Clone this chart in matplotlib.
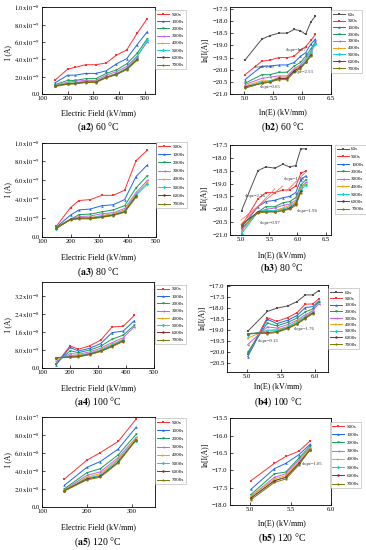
import matplotlib
matplotlib.use("Agg")
import matplotlib.pyplot as plt

plt.rcParams['font.family'] = ['Liberation Serif', 'DejaVu Serif']
plt.rcParams['mathtext.fontset'] = 'stix'

# ---- data ----
labels_a = ['500s', '1000s', '2000s', '3000s', '4000s', '5000s', '6000s', '7000s']
labels_b = ['60s'] + labels_a

# 60 C
field_60 = [150, 200, 230, 270, 310, 350, 390, 430, 470, 510]
cur_60 = [  # x1e-9 A
    [1.6, 2.9, 3.1, 3.4, 3.4, 3.6, 4.5, 5.1, 7.0, 8.7],
    [1.3, 2.2, 2.2, 2.4, 2.4, 2.7, 3.5, 4.1, 5.7, 7.2],
    [1.1, 1.6, 1.6, 1.8, 1.8, 2.4, 2.8, 3.5, 4.7, 6.4],
    [1.0, 1.4, 1.5, 1.6, 1.6, 2.2, 2.6, 3.2, 4.4, 6.0],
    [1.0, 1.3, 1.3, 1.5, 1.5, 2.0, 2.4, 3.0, 4.1],
    [0.95, 1.25, 1.3, 1.45, 1.45, 2.0, 2.35, 3.0, 4.3, 6.2],
    [0.95, 1.2, 1.25, 1.4, 1.4, 1.95, 2.3, 2.9, 4.0],
    [0.9, 1.15, 1.2, 1.35, 1.35, 1.9, 2.25, 2.85, 3.9],
]
lnE_60 = [5.01, 5.30, 5.44, 5.60, 5.74, 5.86, 5.97, 6.06, 6.15, 6.23]
lnI_60 = [
    [-19.6, -18.75, -18.6, -18.5, -18.5, -18.35, -18.4, -18.55, -18.05, -17.8],
    [-20.2, -19.65, -19.6, -19.5, -19.5, -19.45, -19.2, -19.05, -18.8, -18.55],
    [-20.4, -19.85, -19.85, -19.8, -19.8, -19.7, -19.45, -19.3, -18.95, -18.75],
    [-20.55, -20.2, -20.2, -20.1, -20.1, -19.85, -19.7, -19.45, -19.15, -18.85],
    [-20.6, -20.35, -20.3, -20.25, -20.25, -19.95, -19.8, -19.55, -19.25, -18.9],
    [-20.65, -20.45, -20.45, -20.3, -20.3, -20.0, -19.85, -19.65, -19.35],
    [-20.7, -20.5, -20.45, -20.35, -20.35, -20.05, -19.9, -19.65, -19.3, -18.95],
    [-20.7, -20.55, -20.5, -20.35, -20.35, -20.05, -19.9, -19.7, -19.4],
    [-20.75, -20.55, -20.5, -20.4, -20.4, -20.1, -19.95, -19.7, -19.45],
]

# 80 C
field_80 = [150, 200, 230, 270, 310, 350, 390, 430, 470]
cur_80 = [
    [1.1, 3.1, 3.85, 3.95, 4.4, 4.4, 4.95, 8.1, 9.2],
    [1.0, 2.3, 2.85, 2.95, 3.3, 3.4, 3.95, 6.4, 7.65],
    [1.0, 1.85, 2.35, 2.4, 2.65, 2.85, 3.3, 5.2, 6.5],
    [0.95, 1.85, 2.15, 2.2, 2.45, 2.55, 3.0, 4.7, 6.0],
    [0.95, 1.85, 2.05, 2.05, 2.25, 2.45, 2.85, 4.5, 5.8],
    [0.85, 1.85, 2.0, 2.0, 2.2, 2.35, 2.75, 4.4, 5.6],
    [0.9, 1.85, 1.95, 1.95, 2.1, 2.3, 2.65, 4.3],
    [0.9, 1.8, 1.9, 1.9, 2.05, 2.25, 2.6, 4.2],
]
lnE_80 = [5.01, 5.30, 5.44, 5.60, 5.74, 5.86, 5.97, 6.06, 6.15]
lnI_80 = [
    [-20.05, -18.5, -18.35, -18.4, -18.25, -18.35, -18.3, -17.65, -17.65],
    [-20.65, -19.6, -19.35, -19.35, -19.25, -19.25, -19.1, -18.6, -18.5],
    [-20.7, -19.9, -19.7, -19.65, -19.55, -19.5, -19.35, -18.85, -18.7],
    [-20.75, -20.1, -19.9, -19.9, -19.75, -19.7, -19.55, -19.05, -18.85],
    [-20.8, -20.1, -20.0, -19.95, -19.85, -19.8, -19.65, -19.15, -18.95],
    [-20.85, -20.1, -20.05, -20.05, -19.95, -19.85, -19.7, -19.2, -19.0],
    [-20.95, -20.1, -20.05, -20.05, -20.0, -19.9, -19.75, -19.25, -19.05],
    [-20.6, -20.1, -20.1, -20.1, -20.05, -19.95, -19.8, -19.3],
    [-20.6, -20.15, -20.1, -20.1, -20.05, -20.0, -19.85, -19.35],
]

# 100 C
field_100 = [150, 200, 230, 270, 310, 350, 390, 430]
cur_100 = [
    [1.7, 9.9, 8.4, 9.9, 12.4, 18.2, 18.5, 23.3],
    [1.5, 9.2, 7.6, 8.8, 10.9, 15.7, 16.4, 21.0],
    [2.0, 7.7, 6.9, 8.0, 9.8, 12.8, 14.6, 19.0],
    [3.0, 6.5, 6.2, 7.2, 8.9, 11.3, 13.5, 18.3],
    [4.0, 5.6, 5.8, 6.6, 8.3, 10.6, 12.8],
    [4.5, 5.5, 5.5, 6.5, 8.0, 10.3, 12.5],
    [4.7, 5.0, 5.2, 6.2, 7.6, 9.8, 12.1],
    [4.7, 4.8, 5.0, 6.0, 7.4, 9.5, 11.8],
]
lnE_100 = [5.01, 5.30, 5.44, 5.60, 5.74, 5.86, 5.97, 6.06]
lnI_100 = [
    [-19.05, -18.15, -18.0, -17.9, -17.7, -17.4, -17.4, -17.2],
    [-20.1, -18.43, -18.6, -18.43, -18.2, -17.82, -17.81, -17.58],
    [-20.2, -18.5, -18.7, -18.55, -18.33, -17.97, -17.93, -17.68],
    [-20.0, -18.68, -18.8, -18.65, -18.44, -18.17, -18.04, -17.72],
    [-19.65, -18.85, -18.9, -18.75, -18.54, -18.3, -18.12, -17.8],
    [-19.35, -19.0, -18.97, -18.84, -18.6, -18.36, -18.17],
    [-19.2, -19.02, -19.02, -18.85, -18.64, -18.39, -18.2],
    [-19.15, -19.11, -19.07, -18.9, -18.7, -18.44, -18.23],
    [-19.15, -19.15, -19.1, -18.93, -18.72, -18.47, -18.25],
]

# 120 C
field_120 = [150, 200, 230, 270, 310]
cur_120 = [  # x1e-8 A
    [3.1, 5.2, 6.05, 7.3, 9.8],
    [2.4, 4.4, 5.05, 6.45, 8.9],
    [2.0, 3.8, 4.25, 5.8, 8.1],
    [1.9, 3.5, 3.9, 5.5, 7.75],
    [1.85, 3.3, 3.7, 5.3, 7.6],
    [1.8, 3.2, 3.5, 5.2, 7.4],
    [1.8, 3.1, 3.4, 5.0, 7.5],
    [1.75, 3.0, 3.3, 4.9, 7.5],
]
lnE_120 = [5.01, 5.30, 5.44, 5.60, 5.74]
lnI_120 = [
    [-17.3, -16.8, -16.6, -16.45, -16.15],
    [-17.55, -16.95, -16.8, -16.55, -16.25],
    [-17.7, -17.1, -17.05, -16.65, -16.3],
    [-17.75, -17.2, -17.1, -16.7, -16.35],
    [-17.75, -17.25, -17.15, -16.75, -16.38],
    [-17.8, -17.3, -17.2, -16.8, -16.42],
    [-17.8, -17.3, -17.2, -16.8, -16.4],
    [-17.85, -17.35, -17.25, -16.85, -16.4],
]

# ---- style ----
colors_a = ['#FF3030', '#1E64F0', '#10A050', '#C060F0', '#F0A010', '#10D0D0', '#8B2B2B', '#7A7A00']
markers_a = ['s', '^', 'v', '<', '>', 'D', 'o', 'p']
colors_b = ['#505050'] + colors_a
markers_b = ['s'] + markers_a

W, H = 366, 550
fig = plt.figure(figsize=(W / 100, H / 100), dpi=100)


def px_axes(l, t, r, b):
    return fig.add_axes([l / W, 1 - b / H, (r - l) / W, (b - t) / H])


def style(ax):
    for s in ax.spines.values():
        s.set_linewidth(0.6)
    ax.tick_params(direction='in', length=2, width=0.5, labelsize=4.8, pad=1.5)


def add_legend(ax, labels, x, y, spacing):
    leg = ax.legend(labels, loc='upper left', bbox_to_anchor=(x / W, 1 - y / H),
                    bbox_transform=fig.transFigure, fontsize=3.6, frameon=True,
                    fancybox=False, edgecolor='#999999', handlelength=2.4,
                    labelspacing=spacing, borderpad=0.4, handletextpad=0.5,
                    borderaxespad=0)
    leg.get_frame().set_linewidth(0.4)


def draw(ax, xs, ys_list, colors, markers, scale=1.0):
    for ys, c, m in zip(ys_list, colors, markers):
        n = len(ys)
        ax.plot(xs[:n], [v * scale for v in ys], color=c, marker=m, ms=1.8,
                lw=0.7, mew=0)


def ylab(text, x, y):
    fig.text(x / W, 1 - y / H, text, rotation=90, ha='center', va='center', fontsize=5.5)


def xlab(text, x, y):
    fig.text(x / W, 1 - y / H, text, ha='center', va='center', fontsize=5.8)


def caption(tag, temp, x, y):
    fig.text(x / W, 1 - y / H, r'($\mathbf{' + tag + r'}$) ' + temp,
             ha='center', va='center', fontsize=7)


def slope(ax, text, x, y):
    ax.text(x, y, text, fontsize=3.4, ha='center', va='center', color='#333333')


# ---- (a2) ----
ax = px_axes(42, 7.3, 155, 94.3)
draw(ax, field_60, cur_60, colors_a, markers_a, 1e-9)
ax.set_xlim(100, 540)
ax.set_ylim(0, 1.0e-8)
ax.set_xticks([100, 200, 300, 400, 500])
ax.set_yticks([0, 2e-9, 4e-9, 6e-9, 8e-9, 1e-8],
              ['0.0', r'$2.0\mathrm{x}10^{-9}$', r'$4.0\mathrm{x}10^{-9}$',
               r'$6.0\mathrm{x}10^{-9}$', r'$8.0\mathrm{x}10^{-9}$', r'$1.0\mathrm{x}10^{-8}$'])
style(ax)
add_legend(ax, labels_a, 155, 10, 0.55)
ylab('I (A)', 8, 53)
xlab('Electric Field (kV/mm)', 98, 113)
caption('a2', '60 °C', 98, 127)

# ---- (b2) ----
ax = px_axes(230, 6.7, 331, 94.3)
draw(ax, lnE_60, lnI_60, colors_b, markers_b)
ax.set_xlim(4.75, 6.5)
ax.set_ylim(-21.0, -17.42)
ax.set_xticks([5.0, 5.5, 6.0, 6.5])
ax.set_yticks([-21.0, -20.5, -20.0, -19.5, -19.0, -18.5, -18.0, -17.5])
style(ax)
slope(ax, 'slope=1.87', 5.9, -19.2)
slope(ax, 'slope=2.50', 5.34, -19.88)
slope(ax, 'slope=2.53', 6.02, -20.08)
slope(ax, 'slope=0.65', 5.44, -20.72)
add_legend(ax, labels_b, 331, 10, 0.45)
ylab('ln[I(A)]', 205, 50)
xlab('ln(E) (kV/mm)', 283, 112)
caption('b2', '60 °C', 283, 127)

# ---- (a3) ----
ax = px_axes(42, 142.7, 156, 236.7)
draw(ax, field_80, cur_80, colors_a, markers_a, 1e-9)
ax.set_xlim(100, 500)
ax.set_ylim(0, 1.0e-8)
ax.set_xticks([100, 200, 300, 400, 500])
ax.set_yticks([0, 2e-9, 4e-9, 6e-9, 8e-9, 1e-8],
              ['0.0', r'$2.0\mathrm{x}10^{-9}$', r'$4.0\mathrm{x}10^{-9}$',
               r'$6.0\mathrm{x}10^{-9}$', r'$8.0\mathrm{x}10^{-9}$', r'$1.0\mathrm{x}10^{-8}$'])
style(ax)
add_legend(ax, labels_a, 156, 142, 0.75)
ylab('I (A)', 8, 190)
xlab('Electric Field (kV/mm)', 98, 257)
caption('a3', '80 °C', 98, 272)

# ---- (b3) ----
ax = px_axes(229.7, 145, 331.3, 235)
draw(ax, lnE_80, lnI_80, colors_b, markers_b)
ax.plot([5.0, 5.74], [-20.42, -19.1], color='#FF7070', lw=0.6)
ax.plot([5.0, 5.6], [-20.58, -19.2], color='#FF7070', lw=0.6)
ax.plot([5.8, 6.15], [-19.3, -18.55], color='#FF7070', lw=0.6)
ax.set_xlim(4.8, 6.6)
ax.set_ylim(-21.0, -17.5)
ax.set_xticks([5.0, 5.5, 6.0, 6.5])
ax.set_yticks([-21.0, -20.5, -20.0, -19.5, -19.0, -18.5, -18.0, -17.5])
style(ax)
slope(ax, 'slope=2.26', 5.26, -19.48)
slope(ax, 'slope=1.36', 5.94, -18.83)
slope(ax, 'slope=1.96', 6.18, -20.05)
slope(ax, 'slope=0.97', 5.51, -20.55)
add_legend(ax, labels_b, 334.7, 145, 0.6)
ylab('ln[I(A)]', 204, 198)
xlab('ln(E) (kV/mm)', 282, 255)
caption('b3', '80 °C', 282, 268)

# ---- (a4) ----
ax = px_axes(42, 282, 154, 368.3)
draw(ax, field_100, cur_100, colors_a, markers_a, 1e-9)
ax.set_xlim(100, 500)
ax.set_ylim(0, 3.8e-8)
ax.set_xticks([100, 200, 300, 400, 500])
ax.set_yticks([0, 8e-9, 1.6e-8, 2.4e-8, 3.2e-8],
              ['0.0', r'$8.0\mathrm{x}10^{-9}$', r'$1.6\mathrm{x}10^{-8}$',
               r'$2.4\mathrm{x}10^{-8}$', r'$3.2\mathrm{x}10^{-8}$'])
style(ax)
add_legend(ax, labels_a, 155, 285, 0.55)
ylab('I (A)', 8, 325)
xlab('Electric Field (kV/mm)', 98, 388)
caption('a4', '100 °C', 98, 402)

# ---- (b4) ----
ax = px_axes(226.7, 285, 328.3, 371.7)
draw(ax, lnE_100, lnI_100, colors_b, markers_b)
ax.set_xlim(4.7, 6.2)
ax.set_ylim(-20.88, -16.95)
ax.set_xticks([5.0, 5.5, 6.0])
ax.set_yticks([-20.5, -20.0, -19.5, -19.0, -18.5, -18.0, -17.5, -17.0])
style(ax)
slope(ax, 'slope=1.76', 5.85, -18.93)
slope(ax, 'slope=0.13', 5.31, -19.48)
add_legend(ax, labels_b, 328, 288, 0.4)
ylab('ln[I(A)]', 202, 318)
xlab('ln(E) (kV/mm)', 278, 386)
caption('b4', '100 °C', 278, 402)

# ---- (a5) ----
ax = px_axes(42, 417.3, 155, 506.7)
draw(ax, field_120, cur_120, colors_a, markers_a, 1e-8)
ax.set_xlim(100, 352)
ax.set_ylim(0, 1.0e-7)
ax.set_xticks([100, 200, 300])
ax.set_yticks([0, 2e-8, 4e-8, 6e-8, 8e-8, 1e-7],
              ['0.0', r'$2.0\mathrm{x}10^{-8}$', r'$4.0\mathrm{x}10^{-8}$',
               r'$6.0\mathrm{x}10^{-8}$', r'$8.0\mathrm{x}10^{-8}$', r'$1.0\mathrm{x}10^{-7}$'])
style(ax)
add_legend(ax, labels_a, 155, 418, 0.75)
ylab('I (A)', 8, 460)
xlab('Electric Field (kV/mm)', 98, 527)
caption('a5', '120 °C', 98, 542)

# ---- (b5) ----
ax = px_axes(229.7, 418.3, 331.3, 505)
draw(ax, lnE_120, lnI_120, colors_a, markers_a)
ax.set_xlim(4.75, 6.0)
ax.set_ylim(-18.0, -15.5)
ax.set_xticks([5.0, 5.5, 6.0])
ax.set_yticks([-18.0, -17.5, -17.0, -16.5, -16.0, -15.5])
style(ax)
slope(ax, 'slope=1.85', 5.76, -16.82)
add_legend(ax, labels_a, 330, 422, 0.75)
ylab('ln[I(A)]', 205, 455)
xlab('ln(E) (kV/mm)', 282, 523)
caption('b5', '120 °C', 282, 538)

fig.savefig('out.png', dpi=100)
